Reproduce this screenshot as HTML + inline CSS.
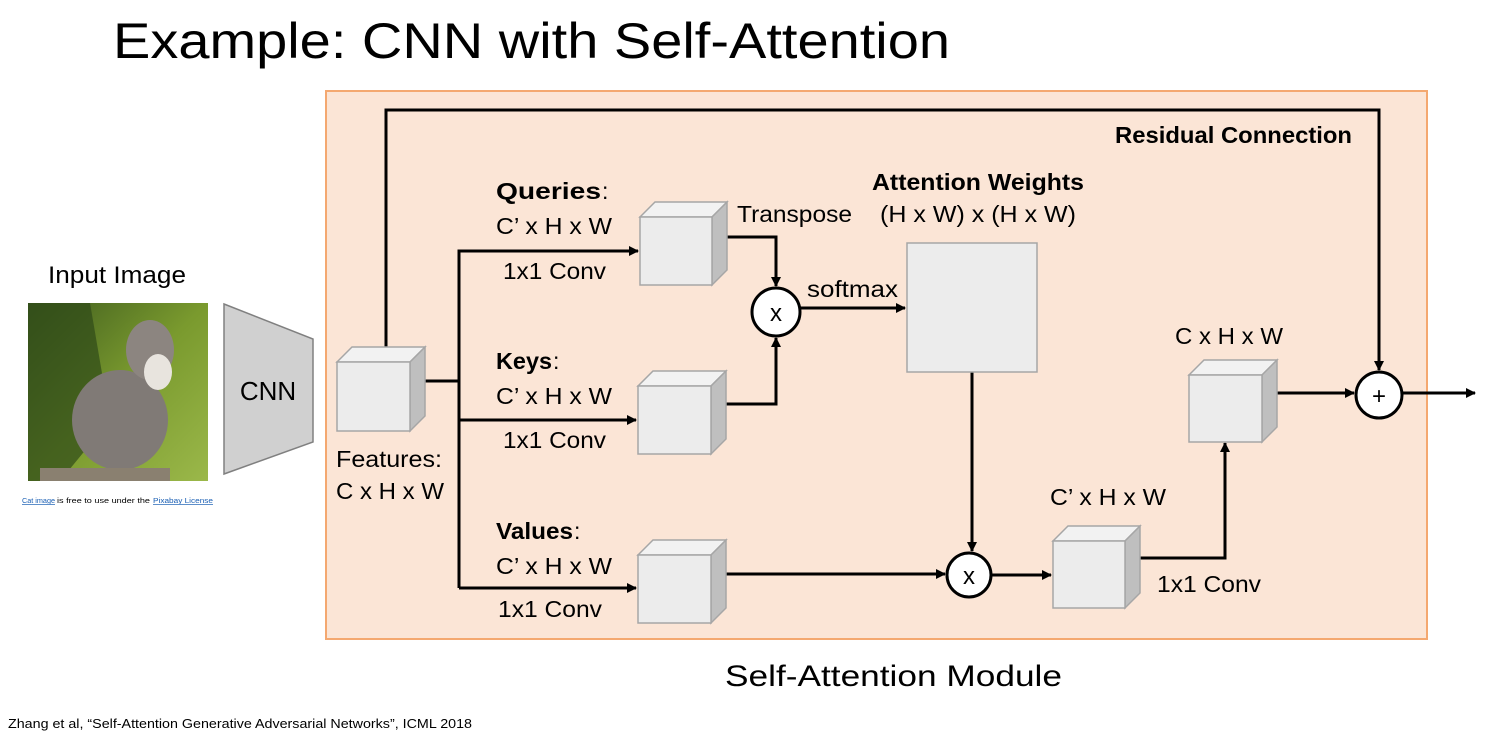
<!DOCTYPE html>
<html><head><meta charset="utf-8"><style>html,body{margin:0;padding:0;background:#fff}svg{display:block}text{font-family:"Liberation Sans",sans-serif}</style></head><body>
<svg width="1501" height="738" viewBox="0 0 1501 738" xmlns="http://www.w3.org/2000/svg">
<defs>
<marker id="a" markerWidth="10" markerHeight="10" refX="9" refY="5" orient="auto" markerUnits="userSpaceOnUse"><path d="M0,0 L10,5 L0,10 z" fill="#000"/></marker>
<linearGradient id="bg" x1="0" y1="0" x2="1" y2="1"><stop offset="0" stop-color="#3d5a1e"/><stop offset="0.5" stop-color="#7a9a2e"/><stop offset="1" stop-color="#9bb84a"/></linearGradient>
</defs>
<text x="113" y="58" font-size="50" textLength="837" lengthAdjust="spacingAndGlyphs" fill="#000">Example: CNN with Self-Attention</text>
<rect x="326" y="91" width="1101" height="548" fill="#fbe5d6" stroke="#f4a870" stroke-width="2"/>
<text x="48" y="283" font-size="24" textLength="138" lengthAdjust="spacingAndGlyphs">Input Image</text>
<rect x="28" y="303" width="180" height="178" fill="url(#bg)"/>
<path d="M28,303 L90,303 L110,420 L60,481 L28,481z" fill="#2f4a18" opacity="0.7"/>
<ellipse cx="120" cy="420" rx="48" ry="50" fill="#807a76"/>
<ellipse cx="150" cy="350" rx="24" ry="30" fill="#8c8580"/>
<ellipse cx="158" cy="372" rx="14" ry="18" fill="#e8e4de"/>
<rect x="40" y="468" width="130" height="13" fill="#8a8070"/>
<text x="22" y="503" font-size="7" fill="#1a5fb4" text-decoration="underline" textLength="33" lengthAdjust="spacingAndGlyphs">Cat image</text>
<text x="57" y="503" font-size="7" textLength="93" lengthAdjust="spacingAndGlyphs">is free to use under the</text>
<text x="153" y="503" font-size="7" fill="#1a5fb4" text-decoration="underline" textLength="60" lengthAdjust="spacingAndGlyphs">Pixabay License</text>
<polygon points="224,304 313,339 313,442 224,474" fill="#d0d0d0" stroke="#808080" stroke-width="1.5"/>
<text x="268" y="400" font-size="26" text-anchor="middle">CNN</text>
<g stroke="#000" stroke-width="3" fill="none">
<polyline points="386,347 386,110 1379,110 1379,370" marker-end="url(#a)"/>
<polyline points="425,381 459,381"/>
<polyline points="459,588 459,251 638,251" marker-end="url(#a)"/>
<polyline points="459,420 636,420" marker-end="url(#a)"/>
<polyline points="459,588 636,588" marker-end="url(#a)"/>
<polyline points="727,237 776,237 776,286" marker-end="url(#a)"/>
<polyline points="726,404 776,404 776,338" marker-end="url(#a)"/>
<polyline points="800,308 905,308" marker-end="url(#a)"/>
<polyline points="972,372 972,551" marker-end="url(#a)"/>
<polyline points="726,574 945,574" marker-end="url(#a)"/>
<polyline points="991,575 1051,575" marker-end="url(#a)"/>
<polyline points="1140,558 1225,558 1225,443" marker-end="url(#a)"/>
<polyline points="1277,393 1354,393" marker-end="url(#a)"/>
<polyline points="1402,393 1475,393" marker-end="url(#a)"/>
</g>
<g stroke="#a6a6a6" stroke-width="1.5">
<g transform="translate(337,347)"><polygon points="0,15 15,0 88,0 73,15" fill="#f2f2f2"/><polygon points="73,15 88,0 88,69 73,84" fill="#bfbfbf"/><rect x="0" y="15" width="73" height="69" fill="#ececec"/></g>
<g transform="translate(640,202)"><polygon points="0,15 15,0 87,0 72,15" fill="#f2f2f2"/><polygon points="72,15 87,0 87,68 72,83" fill="#bfbfbf"/><rect x="0" y="15" width="72" height="68" fill="#ececec"/></g>
<g transform="translate(638,371)"><polygon points="0,15 15,0 88,0 73,15" fill="#f2f2f2"/><polygon points="73,15 88,0 88,68 73,83" fill="#bfbfbf"/><rect x="0" y="15" width="73" height="68" fill="#ececec"/></g>
<g transform="translate(638,540)"><polygon points="0,15 15,0 88,0 73,15" fill="#f2f2f2"/><polygon points="73,15 88,0 88,68 73,83" fill="#bfbfbf"/><rect x="0" y="15" width="73" height="68" fill="#ececec"/></g>
<g transform="translate(1053,526)"><polygon points="0,15 15,0 87,0 72,15" fill="#f2f2f2"/><polygon points="72,15 87,0 87,67 72,82" fill="#bfbfbf"/><rect x="0" y="15" width="72" height="67" fill="#ececec"/></g>
<g transform="translate(1189,360)"><polygon points="0,15 15,0 88,0 73,15" fill="#f2f2f2"/><polygon points="73,15 88,0 88,67 73,82" fill="#bfbfbf"/><rect x="0" y="15" width="73" height="67" fill="#ececec"/></g>
<rect x="907" y="243" width="130" height="129" fill="#ececec"/>
</g>
<g stroke="#000" stroke-width="3" fill="#fff">
<circle cx="776" cy="312" r="24"/><circle cx="969" cy="575" r="22"/><circle cx="1379" cy="395" r="23"/>
</g>
<g font-size="24" text-anchor="middle">
<text x="776" y="321">x</text><text x="969" y="584">x</text><text x="1379" y="404">+</text>
</g>
<g font-size="23">
<text x="336" y="467" textLength="106" lengthAdjust="spacingAndGlyphs">Features:</text>
<text x="336" y="499" textLength="108" lengthAdjust="spacingAndGlyphs">C x H x W</text>
<text x="496" y="199" font-weight="bold" textLength="105" lengthAdjust="spacingAndGlyphs">Queries</text><text x="602" y="199">:</text>
<text x="496" y="234" textLength="116" lengthAdjust="spacingAndGlyphs">C’ x H x W</text>
<text x="503" y="279" textLength="103" lengthAdjust="spacingAndGlyphs">1x1 Conv</text>
<text x="496" y="369" font-weight="bold" textLength="56" lengthAdjust="spacingAndGlyphs">Keys</text><text x="553" y="369">:</text>
<text x="496" y="404" textLength="116" lengthAdjust="spacingAndGlyphs">C’ x H x W</text>
<text x="503" y="448" textLength="103" lengthAdjust="spacingAndGlyphs">1x1 Conv</text>
<text x="496" y="539" font-weight="bold" textLength="77" lengthAdjust="spacingAndGlyphs">Values</text><text x="574" y="539">:</text>
<text x="496" y="574" textLength="116" lengthAdjust="spacingAndGlyphs">C’ x H x W</text>
<text x="498" y="617" textLength="104" lengthAdjust="spacingAndGlyphs">1x1 Conv</text>
<text x="737" y="222" textLength="115" lengthAdjust="spacingAndGlyphs">Transpose</text>
<text x="807" y="297" textLength="91" lengthAdjust="spacingAndGlyphs">softmax</text>
<text x="872" y="190" font-weight="bold" textLength="212" lengthAdjust="spacingAndGlyphs">Attention Weights</text>
<text x="880" y="222" textLength="196" lengthAdjust="spacingAndGlyphs">(H x W) x (H x W)</text>
<text x="1115" y="143" font-weight="bold" textLength="237" lengthAdjust="spacingAndGlyphs">Residual Connection</text>
<text x="1175" y="344" textLength="108" lengthAdjust="spacingAndGlyphs">C x H x W</text>
<text x="1050" y="505" textLength="116" lengthAdjust="spacingAndGlyphs">C’ x H x W</text>
<text x="1157" y="592" textLength="104" lengthAdjust="spacingAndGlyphs">1x1 Conv</text>
</g>
<text x="725" y="686" font-size="30" textLength="337" lengthAdjust="spacingAndGlyphs">Self-Attention Module</text>
<text x="8" y="728" font-size="13" textLength="464" lengthAdjust="spacingAndGlyphs">Zhang et al, “Self-Attention Generative Adversarial Networks”, ICML 2018</text>
</svg>
</body></html>
